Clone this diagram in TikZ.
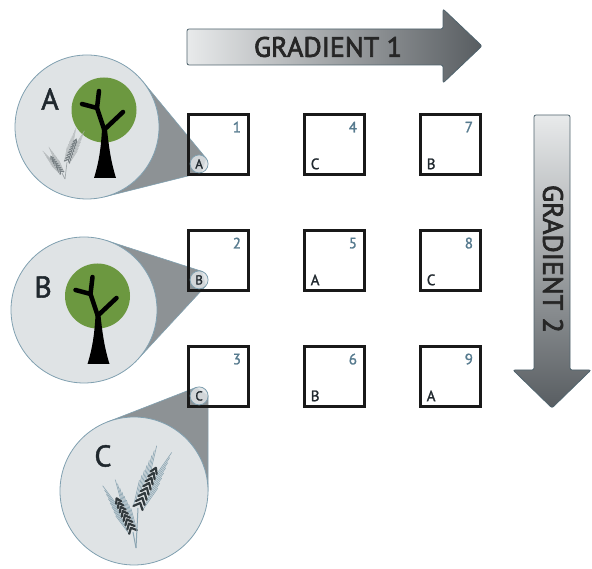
\documentclass[tikz,border=0pt]{standalone}
\usepackage{fontspec}
\setmainfont{PT Sans}[FakeBold=1.5]
\newfontfamily\titlefont{PT Sans}[FakeBold=2.5]
\usepackage{tikz}
\usetikzlibrary{calc,positioning,backgrounds}

\definecolor{leafgreen}{RGB}{108,152,64}
\definecolor{lensgray}{RGB}{223,227,229}
\definecolor{conegray}{RGB}{141,146,149}
\definecolor{rimblue}{RGB}{128,160,176}
\definecolor{numblue}{RGB}{86,122,142}
\definecolor{inkdark}{RGB}{32,40,46}
\definecolor{arrowlight}{RGB}{232,234,235}
\definecolor{arrowdark}{RGB}{88,93,97}
\definecolor{arrowrim}{RGB}{80,100,110}
\definecolor{wheatdark}{RGB}{50,58,62}
\definecolor{wheatlight}{RGB}{120,128,132}
\definecolor{awnblue}{RGB}{140,165,178}

\tikzset{
	plot/.style={draw=black!90, line width=2.8pt, minimum size=60pt, inner sep=0pt},
	lens/.style={circle, draw=rimblue, line width=0.8pt, fill=lensgray, inner sep=0pt, outer sep=0pt},
	spot/.style={circle, draw=rimblue, line width=0.8pt, fill=lensgray, fill opacity=0.85, text opacity=1,
		inner sep=0pt, outer sep=0pt, minimum size=18pt, font=\fontsize{13}{13}\selectfont, text=inkdark},
	cone/.style={fill=conegray, draw=rimblue, line width=0.6pt},
	bigletter/.style={font=\fontsize{30}{30}\selectfont, text=inkdark},
	num/.style={font=\fontsize{15}{15}\selectfont, text=numblue},
	tag/.style={font=\fontsize{15}{15}\selectfont, text=inkdark},
	gradient/.style={draw=arrowrim, line width=0.8pt, rounded corners=2pt},
	title/.style={font=\titlefont\fontsize{28}{28}\selectfont, text=black!85},
	bark/.style={fill=black},
	branch/.style={draw=black, line width=4.5pt, line cap=round, line join=round},
	kernel/.style={draw=wheatdark, line width=2.2pt, line cap=round, line join=round},
	awn/.style={draw=awnblue, line width=0.6pt},
	stalk/.style={draw=awnblue, line width=1pt},
	% tree in a green crown, origin at the crown centre
	pics/tree/.style={code={
		\fill[leafgreen] (0,0) circle (32.5);
		\fill[bark] (-10,-68) .. controls (-5,-52) and (-3,-38) .. (-2,-19)
			-- (3,-19) .. controls (5,-38) and (7,-52) .. (12,-68) -- cycle;
		\draw[branch] (0,-19) -- (-7,2) -- (-5,19);
		\draw[branch] (-7,2) -- (-22,6);
		\draw[branch] (1,-19) -- (19,-2);
	}},
	% ear of wheat pointing up from its base
	pics/ear/.style={code={
		\foreach \k in {0,...,7} {
			\pgfmathsetmacro\w{5-0.25*\k}
			\draw[awn] (-\w,{\k*5.5}) -- ({-\w-5},{\k*5.5+26});
			\draw[awn] (\w,{\k*5.5}) -- ({\w+5},{\k*5.5+26});
			\draw[kernel] (-\w,{\k*5.5}) -- (0,{\k*5.5+5.5}) -- (\w,{\k*5.5});
		}
		\coordinate (-base) at (0,0);
	}}
}

\begin{document}
\begin{tikzpicture}[x=1pt, y=1pt]
	\useasboundingbox (0,0) rectangle (592,569);

	% the two gradient arrows
	\shade[gradient, left color=arrowlight, right color=arrowdark]
		(187,504) -- (187,540) -- (443,540) -- (443,560) -- (482,523) -- (443,486) -- (443,504) -- cycle;
	\node[title] (g1) at (328,522) {GRADIENT 1};
	\shade[gradient, top color=arrowlight, bottom color=arrowdark]
		(534,454) -- (570,454) -- (570,199) -- (591,199) -- (552,161) -- (513,199) -- (534,199) -- cycle;
	\node[title, rotate=-90] (g2) at (553,310) {GRADIENT 2};

	% magnifying lenses
	\node[lens, minimum size=144pt] (bigA) at (87,442) {};
	\node[bigletter] at ([shift={(-37,28)}]bigA) {A};
	\pic at ([shift={(17,17)}]bigA) {tree};
	\coordinate (rootA) at ([shift={(-22,-52)}]bigA);
	\pic (earA1) [scale=0.55, rotate=-22, kernel/.style={draw=wheatlight, line width=1.3pt, line cap=round},
		awn/.style={draw=wheatlight!60, line width=0.4pt}] at ([shift={(-20,-35)}]bigA) {ear};
	\pic (earA2) [scale=0.45, rotate=34, kernel/.style={draw=wheatlight, line width=1.2pt, line cap=round},
		awn/.style={draw=wheatlight!60, line width=0.4pt}] at ([shift={(-25,-46)}]bigA) {ear};
	\draw[stalk, draw=wheatlight!70, line width=0.7pt] (rootA) -- (earA1-base);
	\draw[stalk, draw=wheatlight!70, line width=0.7pt] (rootA) -- (earA2-base);

	\node[lens, minimum size=146pt] (bigB) at (84,259) {};
	\node[bigletter] at ([shift={(-41,23)}]bigB) {B};
	\pic at ([shift={(13.5,14)}]bigB) {tree};

	\node[lens, minimum size=148pt] (bigC) at (134,78) {};
	\node[bigletter] at ([shift={(-31,35)}]bigC) {C};
	\coordinate (rootC) at ([shift={(2,-57)}]bigC);
	\pic (earC1) [rotate=-24] at ([shift={(4,-17)}]bigC) {ear};
	\pic (earC2) [scale=0.85, rotate=26] at ([shift={(-1,-41)}]bigC) {ear};
	\draw[stalk] (rootC) -- (earC1-base);
	\draw[stalk] (rootC) -- (earC2-base);

	% the 3x3 grid of plots
	\foreach \n/\c/\r in {1/0/0,2/0/1,3/0/2,4/1/0,5/1/1,6/1/2,7/2/0,8/2/1,9/2/2}
		\node[plot] (p\n) at ({218.5+116*\c},{424.5-116*\r}) {};
	\foreach \n in {1,...,9}
		\node[num] at ([shift={(-13,-14)}]p\n.north east) {\n};
	\foreach \n/\s in {4/C,5/A,6/B,7/B,8/C,9/A}
		\node[tag] at ([shift={(12,12)}]p\n.south west) {\s};
	\foreach \n/\s in {1/A,2/B,3/C}
		\node[spot] (s\s) at ([shift={(12,12)}]p\n.south west) {\s};

	% cones from each spot out to its lens
	\begin{scope}[on background layer]
		\foreach \b/\s/\t in {bigA/sA/-0.143,bigB/sB/-0.141,bigC/sC/-0.138} {
			\coordinate (h) at ($(\s)!\t!(\b)$);
			\filldraw[cone] (tangent cs:node=\b,point={(h)},solution=1)
				-- (tangent cs:node=\s,point={(h)},solution=1)
				-- (tangent cs:node=\s,point={(h)},solution=2)
				-- (tangent cs:node=\b,point={(h)},solution=2) -- cycle;
		}
	\end{scope}
\end{tikzpicture}
\end{document}
